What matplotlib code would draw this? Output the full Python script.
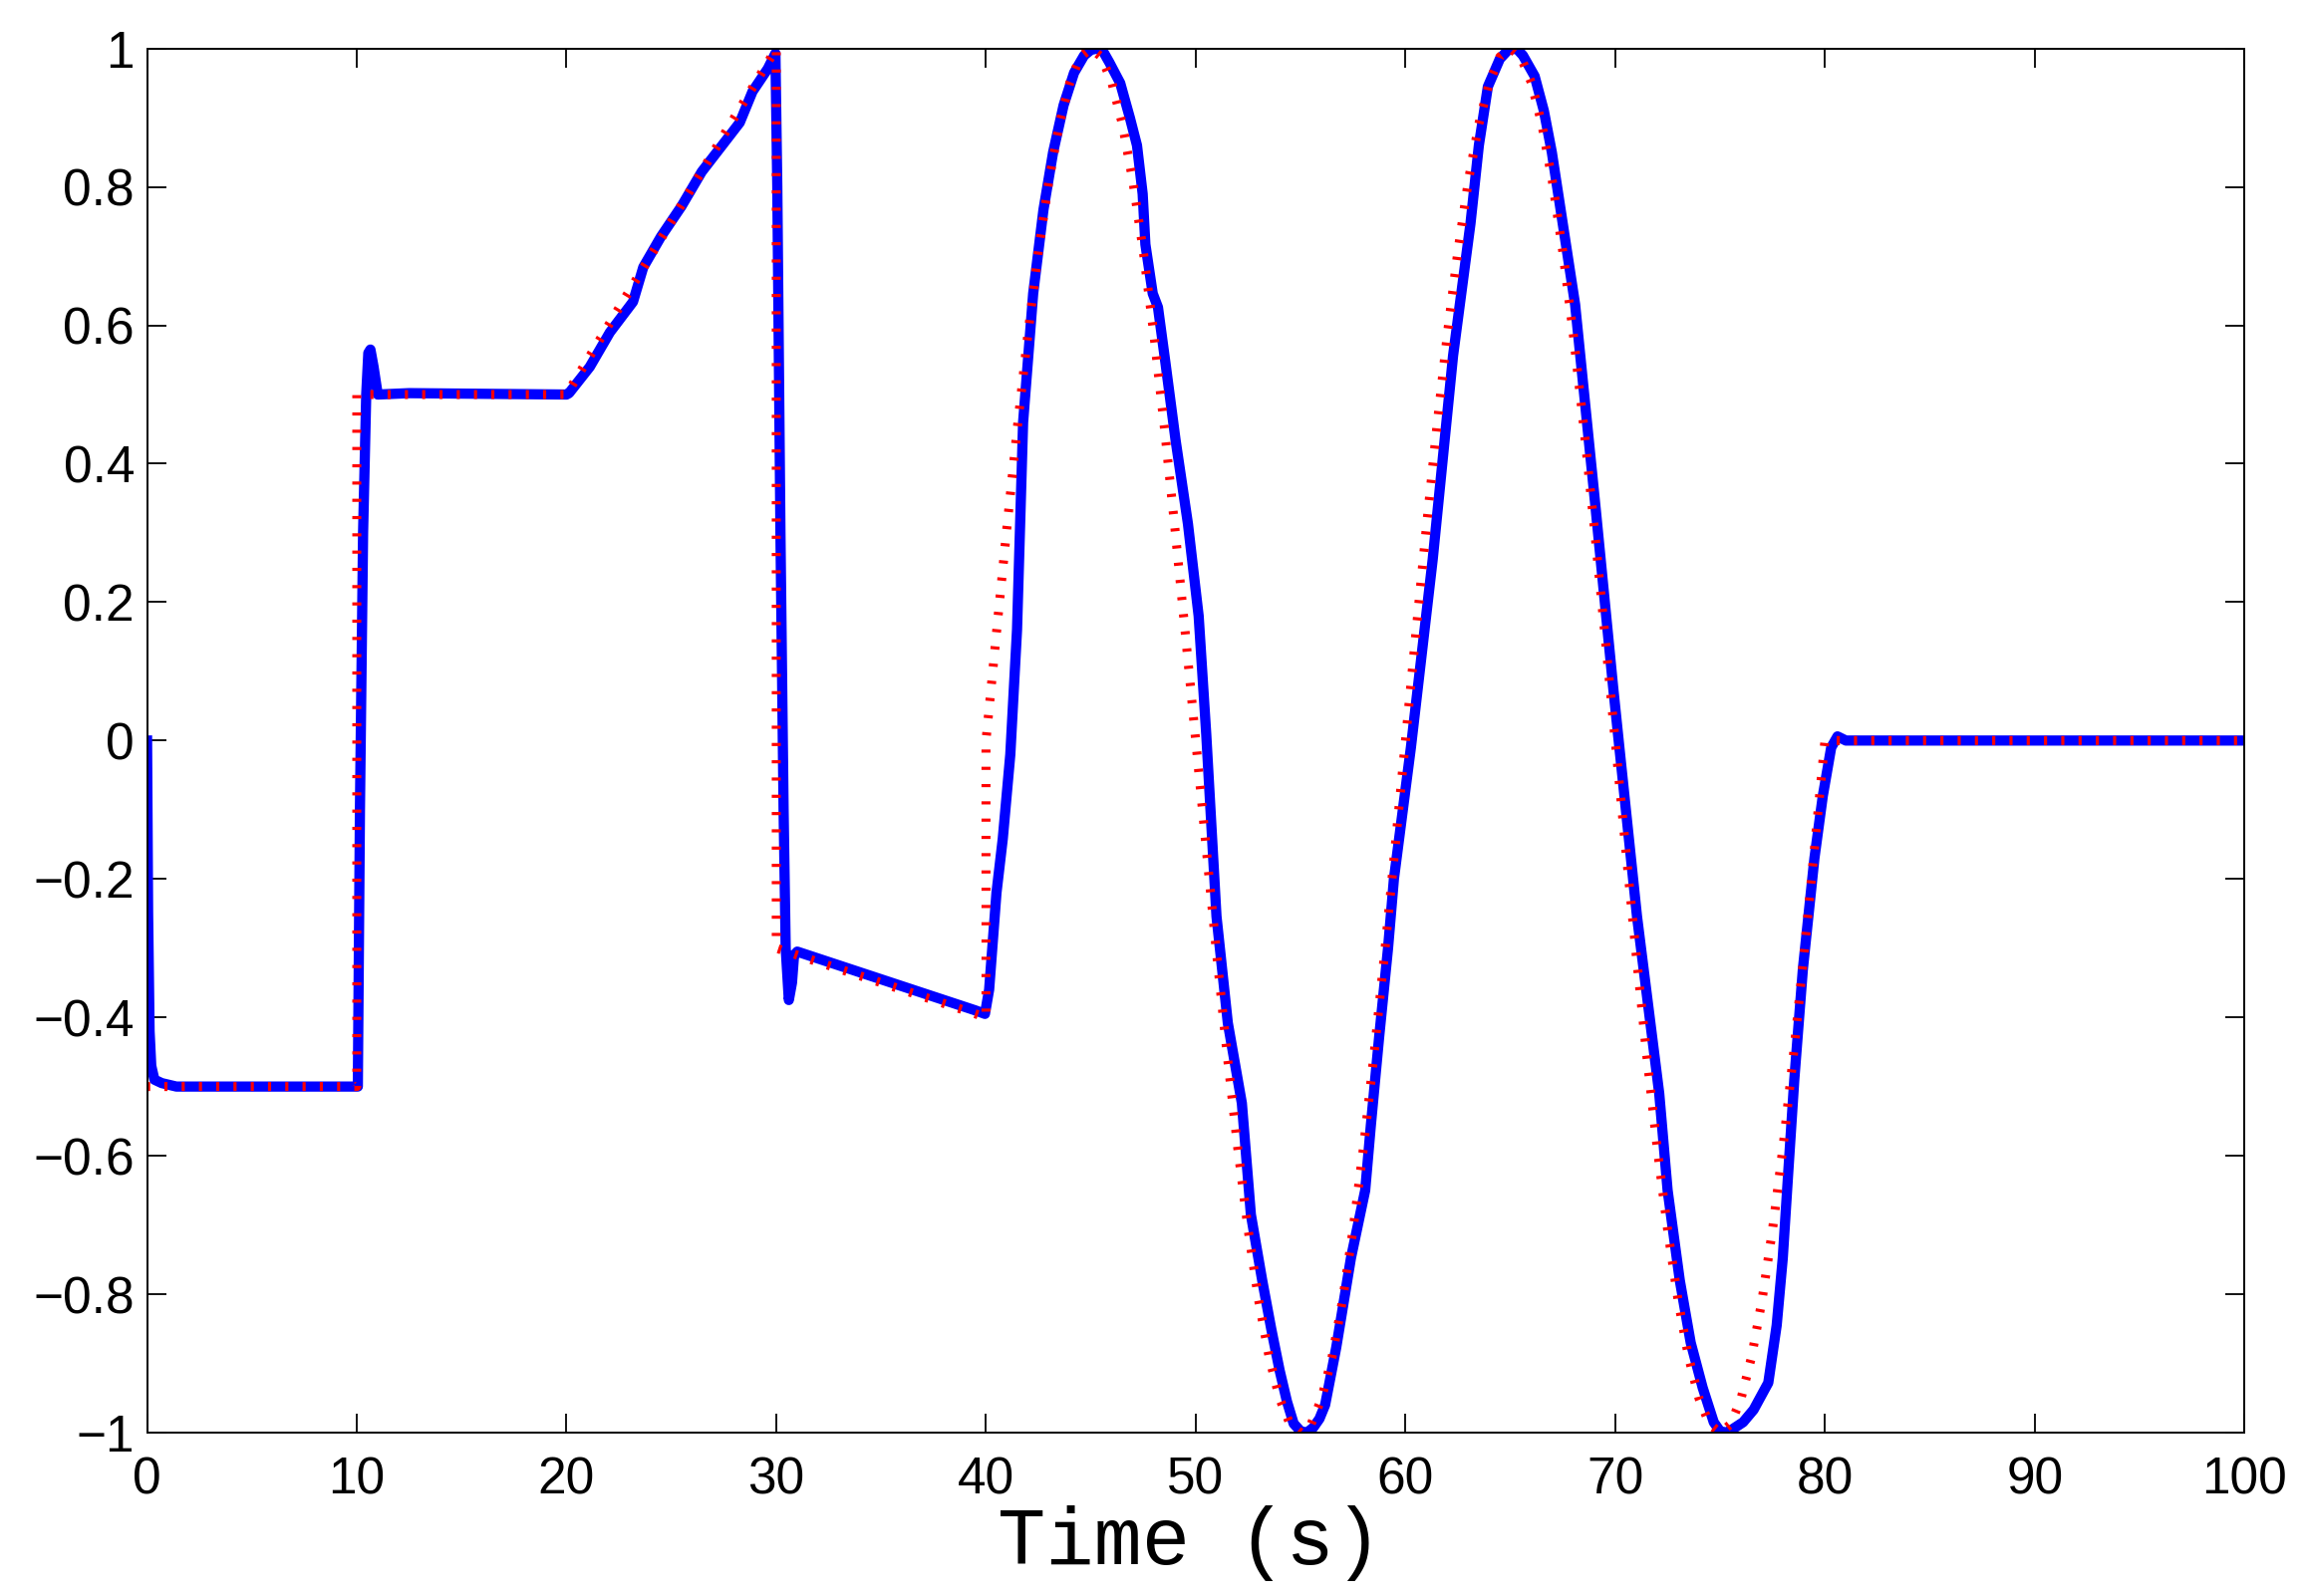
import numpy as np
import matplotlib
matplotlib.use("Agg")
from matplotlib import pyplot as plt

# reference command (red dotted line)
ref_t = [0, 10, 10, 20, 30, 30, 40, 40] + list(np.arange(40.5, 80.01, 0.5)) + [100]
ref_sine = [0.156, 0.309, 0.454, 0.588, 0.707, 0.809, 0.891, 0.951, 0.988, 1.0,
            0.988, 0.951, 0.891, 0.809, 0.707, 0.588, 0.454, 0.309, 0.156, 0.0,
            -0.156, -0.309, -0.454, -0.588, -0.707, -0.809, -0.891, -0.951, -0.988, -1.0,
            -0.988, -0.951, -0.891, -0.809, -0.707, -0.588, -0.454, -0.309, -0.156, 0.0,
            0.156, 0.309, 0.454, 0.588, 0.707, 0.809, 0.891, 0.951, 0.988, 1.0,
            0.988, 0.951, 0.891, 0.809, 0.707, 0.588, 0.454, 0.309, 0.156, 0.0,
            -0.156, -0.309, -0.454, -0.588, -0.707, -0.809, -0.891, -0.951, -0.988, -1.0,
            -0.988, -0.951, -0.891, -0.809, -0.707, -0.588, -0.454, -0.309, -0.156, 0.0]
ref_v = [-0.5, -0.5, 0.5, 0.5, 1.0, -0.3, -0.4, 0.0] + ref_sine + [0.0]

# measured response (blue solid line)
resp_t = [0, 0.05, 0.12, 0.2, 0.35, 0.7, 1.4, 10.05, 10.15, 10.3, 10.45, 10.55, 10.65,
          10.8, 11.0, 12.5, 20.0, 20.12, 21.11, 22.07, 23.17, 23.66, 24.5, 25.48, 26.45,
          27.42, 28.26, 28.87, 29.6, 29.96, 30.05, 30.2, 30.35, 30.45, 30.6, 30.75, 30.85,
          31.0, 35.0, 38.0, 39.5, 39.95, 40.15, 40.5, 40.8, 41.16, 41.48, 41.77, 42.25,
          42.74, 43.2, 43.7, 44.2, 44.68, 45.0, 45.3, 45.6, 45.88, 46.4, 46.86, 47.2, 47.47,
          47.6, 47.95, 48.2, 48.56, 49.04, 49.63, 50.14, 50.5, 50.99, 51.53, 52.2, 52.63,
          53.17, 53.6, 54.0, 54.35, 54.67, 55.0, 55.3, 55.6, 55.9, 56.17, 56.7, 57.4, 58.08,
          58.35, 58.75, 59.17, 59.45, 59.85, 60.26, 61.3, 62.27, 63.1, 63.5, 63.93, 64.5,
          64.9, 65.3, 65.6, 66.16, 66.6, 66.98, 68.09, 69.07, 69.9, 70.2, 71.04, 72.1, 72.5,
          73.08, 73.6, 74.17, 74.7, 75.0, 75.3, 75.6, 76.1, 76.6, 77.3, 77.7, 77.99, 78.26,
          78.54, 78.95, 79.5, 79.9, 80.3, 80.6, 81.0, 100]
resp_v = [0.0, -0.25, -0.42, -0.47, -0.49, -0.495, -0.5, -0.5, -0.1, 0.3, 0.5, 0.56, 0.565,
          0.54, 0.5, 0.502, 0.5, 0.502, 0.54, 0.59, 0.634, 0.684, 0.728, 0.772, 0.822,
          0.86, 0.893, 0.938, 0.971, 0.993, 0.8, 0.3, -0.1, -0.3, -0.375, -0.35, -0.31,
          -0.305, -0.345, -0.375, -0.39, -0.395, -0.36, -0.22, -0.142, -0.02, 0.16, 0.46, 0.646,
          0.767, 0.85, 0.918, 0.965, 0.99, 0.998, 1.0, 0.995, 0.98, 0.95, 0.9, 0.86, 0.79,
          0.717, 0.646, 0.626, 0.545, 0.434, 0.313, 0.18, 0.01, -0.254, -0.408, -0.524, -0.685,
          -0.78, -0.85, -0.91, -0.955, -0.987, -0.998, -1.0, -0.993, -0.98, -0.96, -0.877,
          -0.748, -0.65, -0.556, -0.427, -0.3, -0.2, -0.106, -0.01, 0.262, 0.556, 0.747,
          0.86, 0.945, 0.985, 0.998, 1.0, 0.99, 0.96, 0.91, 0.85, 0.63, 0.335, 0.078,
          -0.01, -0.254, -0.51, -0.65, -0.78, -0.87, -0.935, -0.985, -0.998, -1.0, -0.995,
          -0.985, -0.967, -0.928, -0.845, -0.748, -0.62, -0.49, -0.33, -0.17, -0.08, -0.01,
          0.006, 0.0, 0.0]

xticks = [0, 10, 20, 30, 40, 50, 60, 70, 80, 90, 100]
yticks = [-1, -0.8, -0.6, -0.4, -0.2, 0, 0.2, 0.4, 0.6, 0.8, 1]

fig = plt.figure(figsize=(23.13, 16.02), dpi=100)
ax = fig.add_axes([0.0638, 0.1024, 0.9099, 0.8672])

ax.plot(resp_t, resp_v, color=(0, 0, 1), lw=7.4, solid_joinstyle="round")
ax.plot(ref_t, ref_v, color=(1, 0, 0), lw=6.5, linestyle=(0, (0.35, 1.57)),
        dash_capstyle="butt")

ax.set_xlim(0, 100)
ax.set_ylim(-1, 1)
ax.set_xticks(xticks)
ax.set_yticks(yticks)
ax.set_xticklabels([str(t) for t in xticks], fontfamily="Liberation Sans")
ax.set_yticklabels([("%g" % v).replace("-", "\u2212") for v in yticks],
                   fontfamily="Liberation Sans")
ax.tick_params(direction="in", length=14, width=1.3, top=True, right=True,
               labelsize=37)
ax.tick_params(axis="x", pad=17)
ax.tick_params(axis="y", pad=9)
for s in ax.spines.values():
    s.set_linewidth(1.4)

ax.set_xlabel("Time (s)", fontfamily="Liberation Mono", fontsize=58, va="baseline")
ax.xaxis.set_label_coords(0.497, -0.095)

fig.savefig("out.png", dpi=100)
